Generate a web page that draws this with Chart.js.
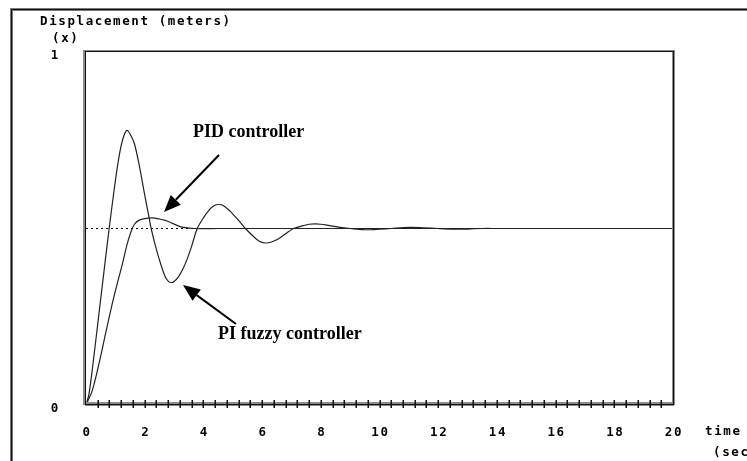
<!DOCTYPE html>
<html><head><meta charset="utf-8">
<script src="https://cdn.jsdelivr.net/npm/chart.js@4/dist/chart.umd.min.js"></script>
<style>html,body{margin:0;padding:0;background:#fff}</style>
</head><body>
<canvas id="c" width="747" height="461"></canvas>
<script>
// PI fuzzy controller response (time in sec, displacement in meters)
const piTime  = [0, 0.1, 0.25, 0.5, 0.78, 1.0, 1.15, 1.28, 1.40, 1.52, 1.65, 1.8, 2.0, 2.14, 2.22, 2.4, 2.55, 2.7, 2.8, 2.9, 3.0, 3.15, 3.3, 3.45, 3.6, 3.79, 4.0, 4.2, 4.35, 4.52, 4.7, 4.9, 5.1, 5.25, 5.43, 5.7, 5.9, 6.11, 6.3, 6.55, 6.8, 7.07, 7.4, 7.6, 7.81, 8.0, 8.3, 8.6, 9.0, 9.4, 9.7, 10.0, 10.4, 10.8, 11.1, 11.5, 12.0, 12.5, 13.0, 13.5, 14, 16, 18, 20];
const piValue = [0, 0.03, 0.125, 0.30, 0.494, 0.635, 0.715, 0.76, 0.778, 0.765, 0.74, 0.685, 0.595, 0.535, 0.50, 0.44, 0.398, 0.363, 0.351, 0.347, 0.35, 0.363, 0.385, 0.414, 0.45, 0.50, 0.53, 0.553, 0.564, 0.568, 0.564, 0.55, 0.532, 0.518, 0.50, 0.478, 0.464, 0.459, 0.461, 0.47, 0.485, 0.50, 0.508, 0.512, 0.513, 0.512, 0.508, 0.504, 0.50, 0.497, 0.4965, 0.498, 0.50, 0.5025, 0.503, 0.502, 0.50, 0.4985, 0.4985, 0.50, 0.50, 0.50, 0.50, 0.50];
// PID controller response
const pidTime  = [0, 0.21, 0.44, 0.7, 0.95, 1.24, 1.4, 1.53, 1.65, 1.80, 2.0, 2.25, 2.5, 2.7, 2.88, 3.1, 3.33, 3.7, 4.5, 6, 8, 10, 12, 14, 16, 18, 20];
const pidValue = [0, 0.04, 0.116, 0.215, 0.306, 0.40, 0.455, 0.49, 0.512, 0.523, 0.528, 0.530, 0.527, 0.523, 0.517, 0.509, 0.503, 0.50, 0.50, 0.50, 0.50, 0.50, 0.50, 0.50, 0.50, 0.50, 0.50];
// steady-state reference (dotted)
const refTime  = [0, 20];
const refValue = [0.5, 0.5];
// axis tick labels
const xTickLabels = ['0','2','4','6','8','10','12','14','16','18','20'];
const yTickLabels = ['0','1'];

const toPts = (xs, ys) => xs.map((x, i) => ({x: x, y: ys[i]}));
const MONO_FAMILY = '"DejaVu Sans Mono", monospace';
const MONO = 'bold 12.5px ' + MONO_FAMILY;

const decor = {
  id: 'decor',
  beforeDraw(chart) {
    const ctx = chart.ctx;
    ctx.letterSpacing = '1.6px';
    ctx.save();
    ctx.letterSpacing = '0px';
    ctx.fillStyle = '#777';
    ctx.fillRect(11, 8, 747, 3);
    ctx.fillRect(10, 8, 3, 461);
    ctx.fillStyle = '#111';
    ctx.fillRect(12, 9, 747, 1);
    ctx.fillRect(11, 9, 1, 461);
    ctx.restore();
  },
  afterDatasetsDraw(chart) {
    const ctx = chart.ctx;
    const a = chart.chartArea;
    const xs = chart.scales.x;
    ctx.save();
    ctx.fillStyle = '#8c8c8c';
    ctx.fillRect(a.left - 3, a.top - 2, 3, a.bottom - a.top + 2);
    ctx.fillRect(a.left - 3, a.top - 2, a.right - a.left + 5, 2);
    ctx.fillRect(a.right - 1, a.top - 2, 3, a.bottom - a.top + 2);
    ctx.fillRect(a.left, a.bottom - 3, a.right - a.left, 2);
    ctx.fillStyle = '#111';
    ctx.fillRect(a.left - 1, a.top - 1, 1, a.bottom - a.top + 1);
    ctx.fillRect(a.left - 1, a.top - 1, a.right - a.left + 1, 1);
    ctx.fillRect(a.right, a.top - 1, 1, a.bottom - a.top + 1);
    ctx.fillRect(a.left - 1, a.bottom - 1, a.right - a.left + 2, 1.5);
    ctx.strokeStyle = '#111';
    ctx.lineWidth = 1.5;
    ctx.beginPath();
    xs.ticks.forEach(t => {
      if (t.value <= 0 || t.value >= 20) return;
      const px = Math.round(xs.getPixelForValue(t.value)) + 0.25;
      ctx.moveTo(px, a.bottom - 5);
      ctx.lineTo(px, a.bottom + 3);
    });
    ctx.stroke();
    ctx.restore();
  },
  afterDraw(chart) {
    const ctx = chart.ctx;
    ctx.save();
    ctx.letterSpacing = '1.6px';
    ctx.font = MONO;
    ctx.fillStyle = '#000';
    ctx.textAlign = 'left';
    ctx.textBaseline = 'middle';
    ctx.fillText('Displacement (meters)', 40, 22);
    ctx.fillText('(x)', 52, 39);
    ctx.fillText('time', 705, 432);
    ctx.fillText('(sec)', 713, 453);
    ctx.letterSpacing = '0px';
    ctx.font = 'bold 18px "Liberation Serif", "Times New Roman", serif';
    ctx.fillText('PID controller', 193, 132);
    ctx.fillText('PI fuzzy controller', 218, 334);
    const arrow = (x1, y1, x2, y2) => {
      const ang = Math.atan2(y2 - y1, x2 - x1);
      const L = 17, W = 7;
      const bx = x2 - L * Math.cos(ang), by = y2 - L * Math.sin(ang);
      ctx.strokeStyle = '#000';
      ctx.lineWidth = 2;
      ctx.beginPath();
      ctx.moveTo(x1, y1);
      ctx.lineTo(bx, by);
      ctx.stroke();
      ctx.fillStyle = '#000';
      ctx.beginPath();
      ctx.moveTo(x2, y2);
      ctx.lineTo(bx + W * Math.sin(ang), by - W * Math.cos(ang));
      ctx.lineTo(bx - W * Math.sin(ang), by + W * Math.cos(ang));
      ctx.closePath();
      ctx.fill();
    };
    arrow(219, 155, 164, 212);
    arrow(236, 324, 183, 285);
    ctx.restore();
    ctx.letterSpacing = '0px';
  }
};

new Chart(document.getElementById('c'), {
  type: 'line',
  data: {
    datasets: [
      { label: 'reference', data: toPts(refTime, refValue), borderColor: '#000', borderWidth: 1, borderDash: [2, 3], pointRadius: 0, order: 3 },
      { label: 'PI fuzzy controller', data: toPts(piTime, piValue), borderColor: '#222', borderWidth: 1.2, pointRadius: 0, tension: 0.3, order: 2 },
      { label: 'PID controller', data: toPts(pidTime, pidValue), borderColor: '#222', borderWidth: 1.2, pointRadius: 0, tension: 0.3, order: 1 }
    ]
  },
  options: {
    responsive: false,
    devicePixelRatio: 1,
    animation: false,
    layout: { padding: { top: 52, right: 74, left: 0, bottom: 0 } },
    plugins: { legend: { display: false }, tooltip: { enabled: false }, title: { display: false } },
    scales: {
      x: {
        type: 'linear', min: 0, max: 20,
        grid: { display: false, drawTicks: false },
        border: { display: false },
        ticks: {
          stepSize: 0.4, autoSkip: false, maxRotation: 0, minRotation: 0,
          padding: 20, labelOffset: 1,
          color: '#000', font: { family: MONO_FAMILY, size: 12.5, weight: 'bold' },
          callback: v => {
            const k = Math.round(v / 2);
            return Math.abs(v - 2 * k) < 1e-6 ? xTickLabels[k] : '';
          }
        },
        afterFit: s => { s.height = 56; }
      },
      y: {
        type: 'linear', min: 0, max: 1,
        grid: { display: false, drawTicks: false },
        border: { display: false },
        ticks: {
          stepSize: 1, padding: 26, labelOffset: 4,
          color: '#000', font: { family: MONO_FAMILY, size: 12.5, weight: 'bold' },
          callback: v => yTickLabels[Math.round(v)] ?? ''
        },
        afterFit: s => { s.width = 86; }
      }
    }
  },
  plugins: [decor]
});
</script>
</body></html>
